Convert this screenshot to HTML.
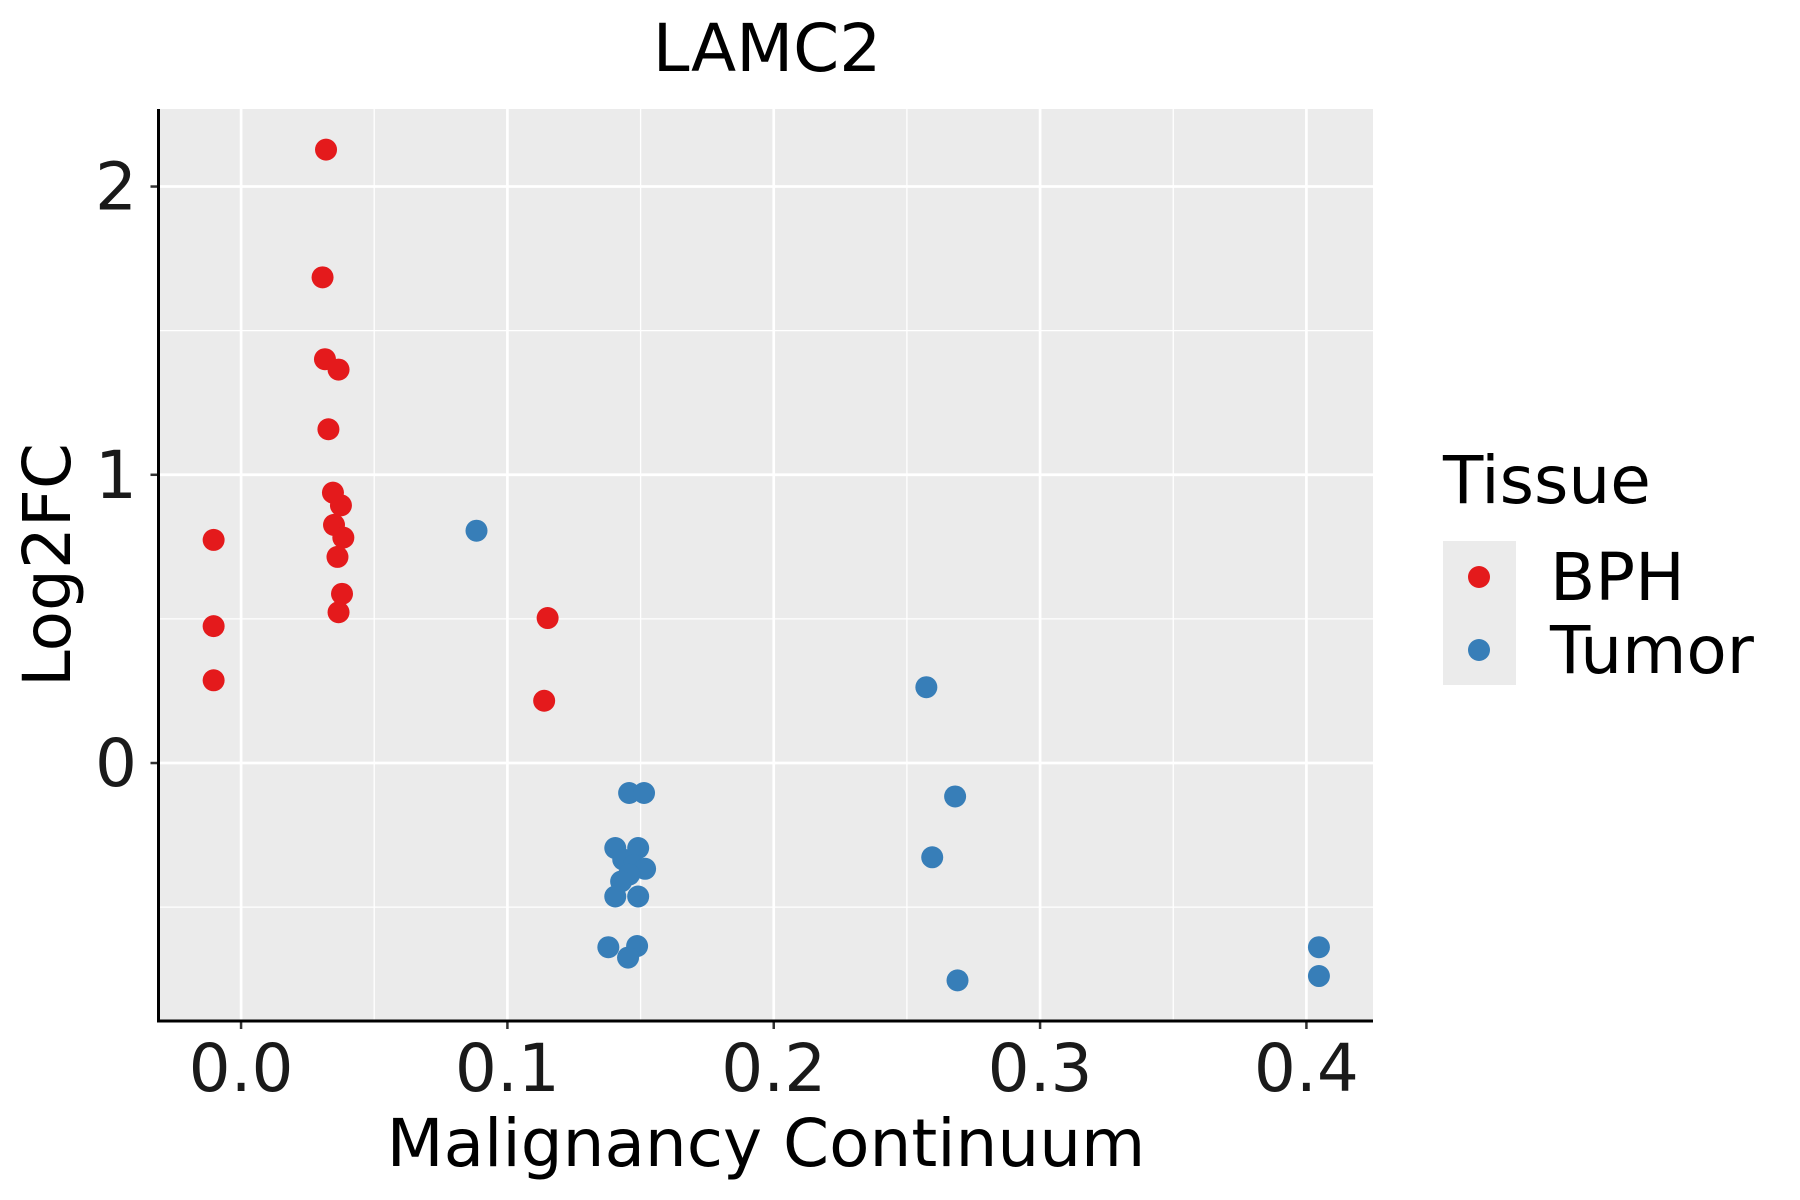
<!DOCTYPE html>
<html><head><meta charset="utf-8"><style>
body{margin:0;background:#fff}
svg{display:block;font-family:"DejaVu Sans","Liberation Sans",sans-serif}
</style></head><body>
<svg id="chart" width="1800" height="1200" viewBox="0 0 1800 1200">
<text x="767" y="71" font-size="66" text-anchor="middle">LAMC2</text>
<rect x="158.5" y="109" width="1214.5" height="912" fill="#ebebeb"/>
<g id="grid"></g>
<g id="pts"></g>
<g id="axes"></g>
<text x="766" y="1166" font-size="66" text-anchor="middle">Malignancy Continuum</text>
<text transform="translate(70,565) rotate(-90)" font-size="66" text-anchor="middle">Log2FC</text>
<g>
<text x="1443" y="503" font-size="66">Tissue</text>
<rect x="1443" y="541" width="73" height="144" fill="#ebebeb"/>
<circle cx="1479" cy="577" r="11" fill="#e41a1c"/>
<circle cx="1479" cy="650" r="11" fill="#377eb8"/>
<text x="1550" y="600" font-size="66">BPH</text>
<text x="1550" y="673" font-size="66">Tumor</text>
</g>
</svg>
<script>
const xTicks=[0,0.1,0.2,0.3,0.4];
const xTickLabels=["0.0","0.1","0.2","0.3","0.4"];
const yTicks=[0,1,2];
const yTickLabels=["0","1","2"];
const bphX=[0.0319,0.0306,0.0315,0.0366,0.0328,0.0345,0.0375,0.0349,0.0384,0.0362,0.0379,0.0366,-0.0103,-0.0103,-0.0103,0.1151,0.1138];
const bphY=[2.128,1.685,1.401,1.365,1.158,0.938,0.894,0.826,0.782,0.715,0.587,0.523,0.774,0.475,0.287,0.503,0.216];
const tumorX=[0.0884,0.2573,0.2681,0.2595,0.2690,0.4047,0.4047,0.1457,0.1513,0.1405,0.1491,0.1435,0.1474,0.1517,0.1457,0.1427,0.1405,0.1491,0.1379,0.1487,0.1453];
const tumorY=[0.806,0.263,-0.116,-0.327,-0.754,-0.639,-0.739,-0.104,-0.104,-0.295,-0.295,-0.335,-0.355,-0.367,-0.387,-0.411,-0.463,-0.463,-0.639,-0.635,-0.675];
const L=158.5,R=1373,T=109,B=1021;
const xMin=-0.031,xMax=0.425,yMin=-0.895,yMax=2.269;
const sx=v=>L+(v-xMin)/(xMax-xMin)*(R-L);
const sy=v=>B-(v-yMin)/(yMax-yMin)*(B-T);
const NS="http://www.w3.org/2000/svg";
function mk(tag,attrs,parent){const e=document.createElementNS(NS,tag);for(const k in attrs)e.setAttribute(k,attrs[k]);parent.appendChild(e);return e;}
const grid=document.getElementById('grid'),pts=document.getElementById('pts'),axes=document.getElementById('axes');
for(let i=0;i<xTicks.length;i++){
  const m=xTicks[i]+0.05;
  if(m<xMax){const g=mk('line',{x1:sx(m),x2:sx(m),y1:T,y2:B,stroke:'#fff','stroke-width':1.3},grid);
  
  }
}
[-0.5,0.5,1.5].forEach(v=>{const g=mk('line',{x1:L,x2:R,y1:sy(v),y2:sy(v),stroke:'#fff','stroke-width':1.3},grid);
  
  });
xTicks.forEach((v,i)=>{
  const g=mk('line',{x1:sx(v),x2:sx(v),y1:T,y2:B,stroke:'#fff','stroke-width':2.7},grid);
  
  
  const t=mk('line',{x1:sx(v),x2:sx(v),y1:B,y2:B+8,stroke:'#333','stroke-width':2.5},axes);
  
  
  const lb=mk('text',{x:sx(v),y:1091,'font-size':66,'text-anchor':'middle',fill:'#1a1a1a'},axes);
  lb.textContent=xTickLabels[i];
  
  
});
yTicks.forEach((v,i)=>{
  const g=mk('line',{x1:L,x2:R,y1:sy(v),y2:sy(v),stroke:'#fff','stroke-width':2.7},grid);
  
  
  const t=mk('line',{x1:L-8,x2:L,y1:sy(v),y2:sy(v),stroke:'#333','stroke-width':2.5},axes);
  
  
  const lb=mk('text',{x:137,y:sy(v)+23,'font-size':66,'text-anchor':'end',fill:'#1a1a1a'},axes);
  lb.textContent=yTickLabels[i];
  
  
});
const ax1=mk('line',{x1:L,x2:L,y1:T,y2:B+1.5,stroke:'#000','stroke-width':3},axes);


const ax2=mk('line',{x1:L-1.5,x2:R,y1:B,y2:B,stroke:'#000','stroke-width':3},axes);


bphX.forEach((x,i)=>{const c=mk('circle',{cx:sx(x),cy:sy(bphY[i]),r:11,fill:'#e41a1c'},pts);
  
  });
tumorX.forEach((x,i)=>{const c=mk('circle',{cx:sx(x),cy:sy(tumorY[i]),r:11,fill:'#377eb8'},pts);
  
  });
</script>
</body></html>
